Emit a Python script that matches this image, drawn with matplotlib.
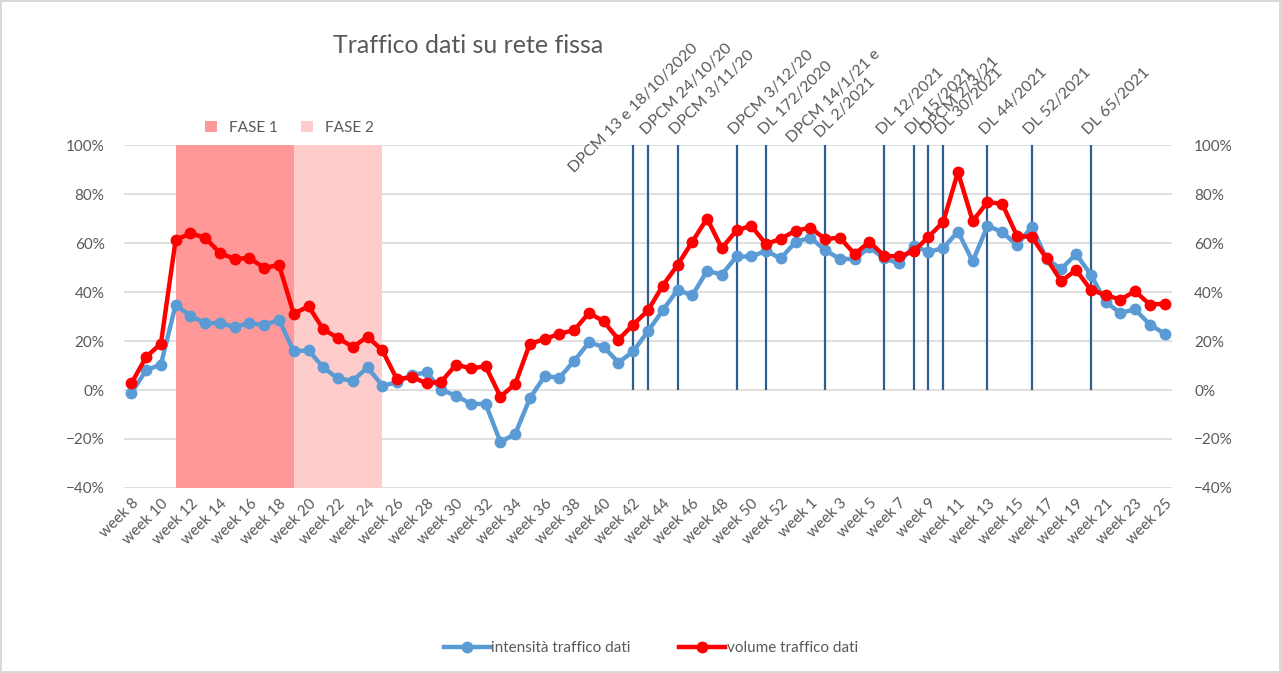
import numpy as np
import matplotlib
matplotlib.use('Agg')
import matplotlib.pyplot as plt
from matplotlib.lines import Line2D
from matplotlib.ticker import PercentFormatter

plt.rcParams['font.family'] = ['Lato', 'DejaVu Sans']

# categories: weeks of 2020 (8..53) then weeks of 2021 (1..25)
weeks = [(2020, w) for w in range(8, 54)] + [(2021, w) for w in range(1, 26)]
week_labels = ['week %d' % w for _, w in weeks]

# intensita' traffico dati (blue) and volume traffico dati (red), in %
intensita = [-1.1, 8.1, 10.4, 34.8, 30.2, 27.3, 27.3, 25.7, 27.3, 26.4,
             28.7, 15.8, 16.2, 9.2, 4.7, 3.8, 9.2, 1.8, 3.1, 6.1,
             7.2, 0.0, -2.3, -5.7, -5.7, -21.2, -18.0, -3.4, 5.7, 5.0,
             11.9, 19.4, 17.6, 11.2, 15.8, 24.0, 32.5, 40.9, 38.6, 48.6,
             47.1, 54.5, 54.5, 56.8, 53.7, 60.5, 62.2, 57.1, 53.5, 53.5,
             58.2, 53.7, 51.7, 58.9, 56.4, 57.9, 64.7, 52.5, 67.0, 64.5,
             59.1, 66.7, 53.5, 49.4, 55.5, 47.1, 35.9, 31.5, 32.9, 26.7,
             23.0]
volume = [2.7, 13.5, 18.9, 61.3, 63.9, 62.2, 55.9, 53.5, 53.9, 49.8,
          51.1, 31.1, 34.2, 24.8, 21.2, 17.6, 21.7, 16.2, 4.3, 5.4,
          2.7, 3.4, 10.4, 8.8, 9.7, -2.7, 2.4, 18.9, 20.7, 23.0,
          24.4, 31.5, 28.0, 20.6, 26.7, 32.5, 42.6, 51.0, 60.5, 70.0,
          57.9, 65.2, 67.0, 59.5, 61.8, 65.0, 66.3, 61.6, 62.2, 55.5,
          60.5, 54.8, 54.5, 56.6, 62.5, 68.6, 88.9, 69.0, 76.7, 76.0,
          62.9, 62.5, 53.7, 44.4, 49.0, 40.9, 38.8, 36.9, 40.3, 34.9,
          35.2]

# phases (start week, end week)
fase1 = ((2020, 11), (2020, 19))
fase2 = ((2020, 19), (2020, 25))

# decrees: week of issue and label
decree_weeks = [(2020, 42), (2020, 43), (2020, 45), (2020, 49), (2020, 51),
                (2021, 2), (2021, 6), (2021, 8), (2021, 9), (2021, 10),
                (2021, 13), (2021, 16), (2021, 20)]
decree_labels = ['DPCM 13 e 18/10/2020', 'DPCM 24/10/20', 'DPCM 3/11/20',
                 'DPCM 3/12/20', 'DL 172/2020', 'DPCM 14/1/21 e\nDL 2/2021',
                 'DL 12/2021', 'DL 15/2021', 'DPCM 2/3/21', 'DL 30/2021',
                 'DL 44/2021', 'DL 52/2021', 'DL 65/2021']

grey = '#595959'
fs = 11
x = np.arange(len(weeks))
y_blue = np.array(intensita) / 100
y_red = np.array(volume) / 100

fig = plt.figure(figsize=(12.81, 6.73), dpi=100)
fig.patch.set_edgecolor('#D9D9D9')
fig.patch.set_linewidth(1.5)
ax = fig.add_axes([0.0968, 0.2749, 0.8181, 0.5096])

ax.set_xlim(-0.5, len(weeks) - 0.5)
ax.set_ylim(-0.4, 1.0)
ax.set_yticks(np.arange(-0.4, 1.01, 0.2))
ax.yaxis.set_major_formatter(PercentFormatter(1.0, decimals=0))
ax.grid(axis='y', color='#D9D9D9', lw=1.2, zorder=0)
ax.set_axisbelow(True)
for s in ax.spines.values():
    s.set_visible(False)

p1 = ax.axvspan(weeks.index(fase1[0]), weeks.index(fase1[1]), color='#FF9999', lw=0, zorder=1, label='FASE 1')
p2 = ax.axvspan(weeks.index(fase2[0]), weeks.index(fase2[1]), color='#FFCCCC', lw=0, zorder=1, label='FASE 2')

for wk, lab in zip(decree_weeks, decree_labels):
    i = weeks.index(wk)
    ax.vlines(i, 0, 1, color='#2E5E8E', lw=1.6, zorder=2)
    if lab.startswith('DPCM 13'):
        ax.text(i, 1.15, lab, rotation=45, rotation_mode='anchor', ha='center', va='center',
                fontsize=fs + 0.5, color=grey)
    elif '\n' in lab:
        ax.annotate(lab, xy=(i, 1.03), xytext=(18, 18), textcoords='offset points', rotation=45,
                    rotation_mode='anchor', ha='center', va='bottom', multialignment='center',
                    fontsize=fs + 0.5, color=grey, annotation_clip=False)
    else:
        ax.text(i, 1.03, lab, rotation=45, rotation_mode='anchor', ha='left', va='bottom',
                fontsize=fs + 0.5, color=grey)

ax.plot(x, y_blue, color='#5B9BD5', lw=3.2, marker='o', ms=7.5, zorder=3)
ax.plot(x, y_red, color='#FF0000', lw=3.2, marker='o', ms=7.5, zorder=4)

ax.set_xticks(x[::2])
ax.set_xticklabels(week_labels[::2], rotation=45, ha='right', rotation_mode='anchor')
ax.tick_params(axis='x', length=0, pad=6, labelsize=fs, labelcolor=grey)
ax.tick_params(axis='y', length=0, pad=14, labelsize=fs, labelcolor=grey)

ax2 = ax.twinx()
ax2.set_ylim(-0.4, 1.0)
ax2.set_yticks(np.arange(-0.4, 1.01, 0.2))
ax2.yaxis.set_major_formatter(PercentFormatter(1.0, decimals=0))
ax2.tick_params(axis='y', length=0, pad=16, labelsize=fs, labelcolor=grey)
for s in ax2.spines.values():
    s.set_visible(False)

fig.text(0.26, 0.933, 'Traffico dati su rete fissa', fontsize=18, color=grey, va='center')

leg1 = fig.legend(handles=[p1, p2], loc='center', bbox_to_anchor=(0.226, 0.81), ncol=2, frameon=False,
                  handlelength=0.8, handleheight=0.8, columnspacing=1.5, fontsize=fs, labelcolor=grey)
h_blue = Line2D([], [], color='#5B9BD5', lw=3.2, marker='o', ms=7.5)
h_red = Line2D([], [], color='#FF0000', lw=3.2, marker='o', ms=7.5)
fig.legend(handles=[h_blue, h_red], labels=['intensità traffico dati', 'volume traffico dati'],
           loc='center', bbox_to_anchor=(0.508, 0.037), ncol=2, frameon=False, handlelength=3.0,
           handletextpad=0.1, columnspacing=3.2, fontsize=fs, labelcolor=grey)

fig.savefig('out.png', dpi=100)
